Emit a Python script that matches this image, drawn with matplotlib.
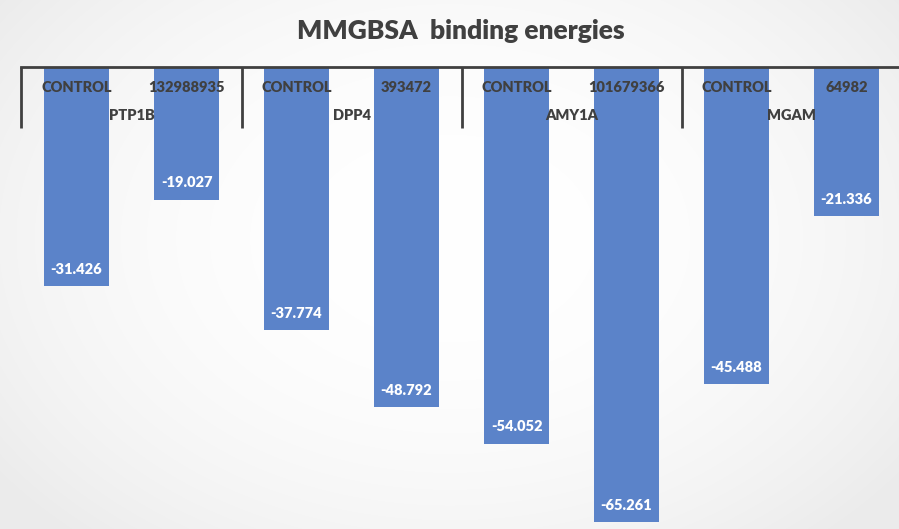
import numpy as np
import matplotlib
matplotlib.use("Agg")
import matplotlib.pyplot as plt
from matplotlib.transforms import blended_transform_factory

# Data
targets = ["PTP1B", "DPP4", "AMY1A", "MGAM"]
ligands = ["CONTROL", "132988935", "CONTROL", "393472",
           "CONTROL", "101679366", "CONTROL", "64982"]
energies = [-31.426, -19.027, -37.774, -48.792,
            -54.052, -65.261, -45.488, -21.336]

W, H = 899, 529
fig = plt.figure(figsize=(W / 100, H / 100), dpi=100)
plt.rcParams["font.family"] = ["Lato", "DejaVu Sans"]

# soft radial background
bg = fig.add_axes([0, 0, 1, 1], zorder=0)
yy, xx = np.mgrid[0:H, 0:W]
r = np.sqrt(((xx - W / 2) / (W * 0.62)) ** 2 + ((yy - H * 0.45) / (H * 0.75)) ** 2)
shade = 1 - 0.075 * np.clip(r, 0, 1) ** 2.2
bg.imshow(np.dstack([shade] * 3), aspect="auto", extent=[0, 1, 0, 1])
bg.set_axis_off()

top_px = 67
ax = fig.add_axes([21.5 / W, 0, 880 / W, (H - top_px) / H], zorder=1)
ax.patch.set_alpha(0)
x = np.arange(len(energies))
bars = ax.bar(x, energies, width=65 / 110, color="#5b83c9", zorder=2)
ax.set_xlim(-0.5, len(energies) - 0.5)
ax.set_ylim(-66.3, 0)
for s in ["left", "right", "bottom"]:
    ax.spines[s].set_visible(False)
ax.spines["top"].set_color("#404040")
ax.spines["top"].set_linewidth(2)
ax.spines["top"].set_zorder(3)
ax.set_xticks([])
ax.set_yticks([])

dark = "#404040"
wt = "heavy"
tr = blended_transform_factory(ax.transData, fig.transFigure)
for xi, lab in zip(x, ligands):
    ax.text(xi, 1 - 88 / H, lab, transform=tr, ha="center", va="center",
            fontsize=10.5, fontweight=wt, color=dark, zorder=4)
for gi, t in enumerate(targets):
    ax.text(2 * gi + 0.5, 1 - 116 / H, t, transform=tr, ha="center", va="center",
            fontsize=10.5, fontweight=wt, color=dark, zorder=4)
for b in [-0.5, 1.5, 3.5, 5.5, 7.5]:
    ax.plot([b, b], [1 - top_px / H, 1 - 128 / H], transform=tr, color=dark,
            lw=2, clip_on=False, zorder=3, solid_capstyle="butt")

for b, v in zip(bars, energies):
    ax.annotate(f"{v:.3f}", (b.get_x() + b.get_width() / 2, v),
                xytext=(0, 12), textcoords="offset points", ha="center",
                va="center", color="white", fontsize=10.5, fontweight=wt,
                zorder=4)

fig.text(461 / W, 1 - 31 / H, "MMGBSA  binding energies", ha="center",
         va="center", fontsize=19, fontweight=wt, color=dark)

fig.savefig("out.png", dpi=100)
